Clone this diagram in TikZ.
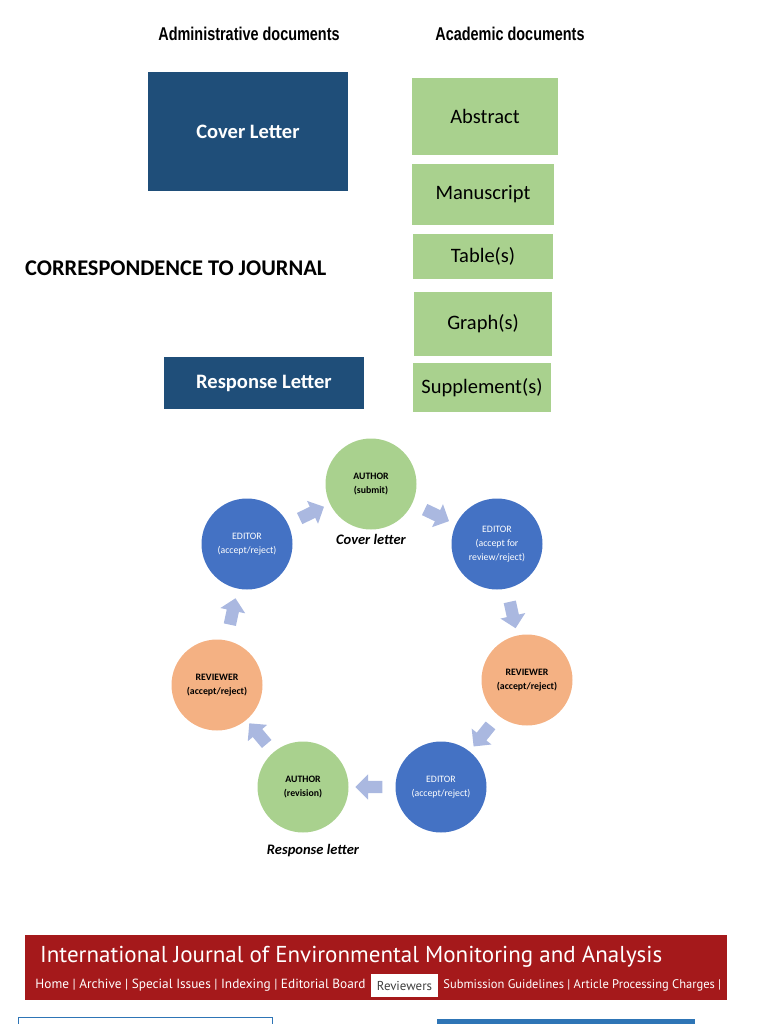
\documentclass[tikz,border=0pt]{standalone}
\usepackage{fontspec}
\setmainfont{Carlito}
\newfontfamily\hdfont[FakeStretch=0.78]{Liberation Sans}
\newfontfamily\jrfont{PT Sans}
\usetikzlibrary{shapes.arrows,positioning}
\definecolor{navy}{HTML}{1F4E79}
\definecolor{leaf}{HTML}{A9D18E}
\definecolor{ed}{HTML}{4472C4}
\definecolor{rv}{HTML}{F4B183}
\definecolor{flow}{HTML}{AAB8E0}
\definecolor{jred}{HTML}{A5191B}
\definecolor{line}{HTML}{2E75B6}
\tikzset{
  adm/.style={fill=navy, text=white, font=\fontsize{20.5}{22}\selectfont\bfseries, inner sep=0},
  acad/.style={fill=leaf, text=black, font=\fontsize{20.5}{22}\selectfont, inner sep=0},
  circ/.style={circle, minimum size=91, inner sep=0, align=center, font=\fontsize{9.8}{14}\selectfont},
  flowarrow/.style={single arrow, fill=flow, inner sep=6, single arrow head extend=6.5, minimum height=27, sloped, allow upside down},
  lbl/.style={font=\fontsize{14.5}{16}\selectfont\bfseries\itshape, inner sep=1},
  nav/.style={inner sep=0, font=\jrfont\fontsize{12.9}{14}\selectfont}
}
\newcommand{\au}[1]{\textbf{AUTHOR}\\\textbf{(#1)}}
\newcommand{\rw}{\textbf{REVIEWER}\\\textbf{(accept/reject)}}

\begin{document}
\begin{tikzpicture}[x=1pt, y=-1pt]
  \useasboundingbox (0,0) rectangle (768,1024);
  % headings
  \node[font=\hdfont\fontsize{18.5}{20}\selectfont\bfseries] (hadm) at (249,34) {Administrative documents};
  \node[font=\hdfont\fontsize{18.5}{20}\selectfont\bfseries] (hacad) at (510,34) {Academic documents};
  \node[anchor=west, inner sep=0, font=\fontsize{22.4}{24}\selectfont\bfseries] (corr) at (25,268) {CORRESPONDENCE TO JOURNAL};
  % documents
  \node[adm, minimum width=200, minimum height=119] (cover) at (248,131.5) {Cover Letter};
  \node[adm, minimum width=200, minimum height=52] (resp) at (264,383) {Response Letter};
  \node[acad, minimum width=146, minimum height=77] (abs) at (485,116.5) {Abstract};
  \node[acad, minimum width=142, minimum height=61] (manu) at (483,194.5) {Manuscript};
  \node[acad, minimum width=140, minimum height=45] (tab) at (483,256.5) {Table(s)};
  \node[acad, minimum width=138, minimum height=64] (graph) at (483,324) {Graph(s)};
  \node[acad, minimum width=138, minimum height=49] (supp) at (482,387.5) {Supplement(s)};
  % review cycle
  \node[circ, fill=leaf] (au1) at (371,484) {\au{submit}};
  \node[circ, fill=ed, text=white] (ed1) at (497,544) {EDITOR\\(accept for\\review/reject)};
  \node[circ, fill=rv] (rv1) at (527,680) {\rw};
  \node[circ, fill=ed, text=white] (ed2) at (441,787) {EDITOR\\(accept/reject)};
  \node[circ, fill=leaf] (au2) at (303,787) {\au{revision}};
  \node[circ, fill=rv] (rv2) at (217,685) {\rw};
  \node[circ, fill=ed, text=white] (ed3) at (247,544) {EDITOR\\(accept/reject)};
  \foreach \a/\b in {ed3/au1, au1/ed1, ed1/rv1, rv1/ed2, ed2/au2, au2/rv2, rv2/ed3}
    \path (\a) -- (\b) node[midway, flowarrow] {};
  \node[lbl, below=3pt of au1] (clet) {Cover letter};
  \node[lbl, below=10pt of au2, xshift=10pt] (rlet) {Response letter};
  % journal banner
  \node[fill=jred, minimum width=702, minimum height=65, inner sep=0, anchor=north west] (banner) at (25,935) {};
  \node[anchor=west, inner sep=0, text=white, font=\jrfont\fontsize{23}{25}\selectfont] (jtitle) at (40,957) {International Journal of Environmental Monitoring and Analysis};
  \node[nav, fill=white, minimum width=67, minimum height=23, text=black!75] (rev) at (404.5,985.5) {Reviewers};
  \node[nav, left=5pt of rev, text=white, font=\jrfont\fontsize{13.3}{14}\selectfont] (navl) {Home | Archive | Special Issues | Indexing | Editorial Board};
  \node[nav, right=5pt of rev, text=white, font=\jrfont\fontsize{12.5}{14}\selectfont] (navr) {Submission Guidelines | Article Processing Charges |};
  % page below
  \draw[line, line width=0.8] (18,1030) rectangle (272,1017);
  \fill[line] (437,1019) rectangle (695,1030);
\end{tikzpicture}
\end{document}
